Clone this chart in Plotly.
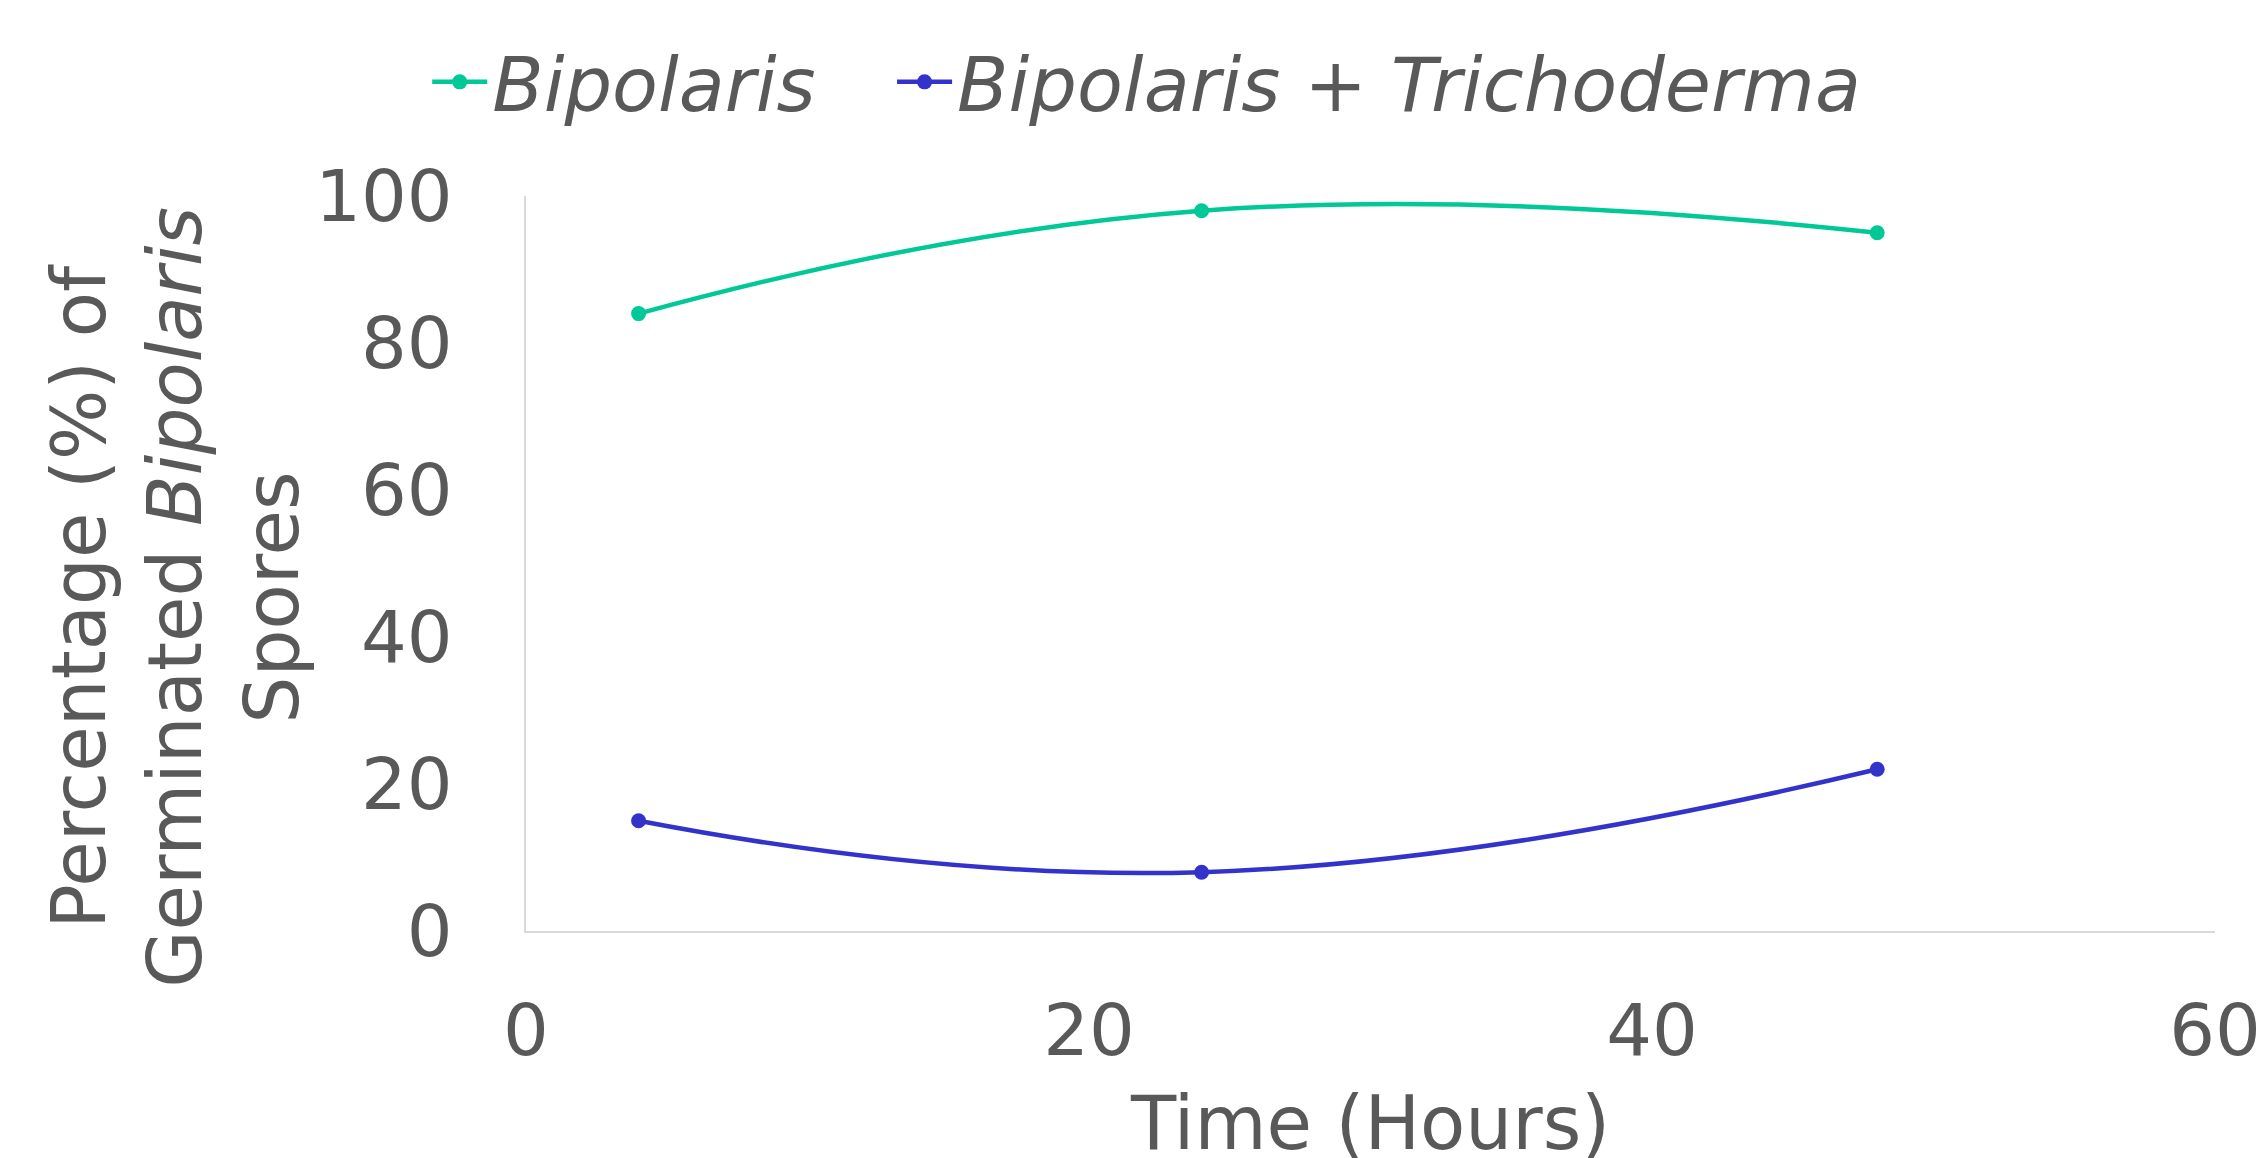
import plotly.graph_objects as go

hours = [4, 24, 48]
bipolaris = [84, 98, 95]
bipolaris_tricho = [15, 8, 22]
x_ticks = [0, 20, 40, 60]
y_ticks = [0, 20, 40, 60, 80, 100]

FONT = "DejaVu Sans"
GREY = "#595959"

fig = go.Figure()
fig.add_trace(go.Scatter(
    x=hours, y=bipolaris, mode="lines+markers",
    name="<i>Bipolaris</i>&nbsp;&nbsp;&nbsp;",
    line=dict(color="#00C896", width=4.5, shape="spline", smoothing=1.3),
    marker=dict(size=15, color="#00C896"),
))
fig.add_trace(go.Scatter(
    x=hours, y=bipolaris_tricho, mode="lines+markers",
    name="<i>Bipolaris + Trichoderma</i>",
    line=dict(color="#3333CC", width=4.5, shape="spline", smoothing=1.3),
    marker=dict(size=15, color="#3333CC"),
))

fig.update_layout(
    width=2266, height=1158,
    margin=dict(l=518, r=59, t=188, b=235),
    paper_bgcolor="white", plot_bgcolor="white",
    font=dict(family=FONT, color=GREY, size=72),
    showlegend=True,
    legend=dict(
        orientation="h", xref="container", yref="container",
        x=0.185, xanchor="left", y=0.936, yanchor="middle",
        font=dict(size=75, color=GREY), itemwidth=55,
        bgcolor="rgba(0,0,0,0)",
    ),
    xaxis=dict(
        range=[0, 60], tickvals=x_ticks, showgrid=False, zeroline=False,
        showline=True, linecolor="#D9D9D9", linewidth=2, ticks="",
        ticklabelstandoff=36,
        tickfont=dict(size=72, color=GREY),
        title=dict(text="Time (Hours)", font=dict(size=74, color=GREY), standoff=30),
    ),
    yaxis=dict(
        range=[0, 100], tickvals=y_ticks, showgrid=False, zeroline=False,
        showline=True, linecolor="#D9D9D9", linewidth=2, ticks="",
        ticklabelstandoff=57,
        tickfont=dict(size=72, color=GREY),
    ),
    annotations=[dict(
        text="Percentage (%) of<br>Germinated <i>Bipolaris</i><br>Spores",
        xref="paper", yref="paper", x=-0.2075, y=0.454,
        xanchor="center", yanchor="middle", textangle=-90, showarrow=False,
        font=dict(size=74, color=GREY, family=FONT),
    )],
)

fig.write_html("out.html")
